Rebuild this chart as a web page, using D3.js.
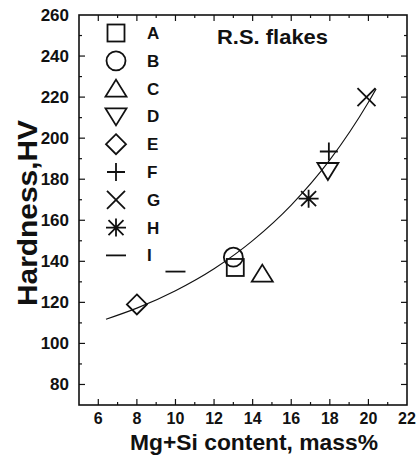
<!DOCTYPE html>
<html>
<head>
<meta charset="utf-8">
<script src="https://cdn.jsdelivr.net/npm/d3@7"></script>
<style>
  body { margin: 0; background: #fff; }
  text { font-family: "Liberation Sans", Arial, sans-serif; font-weight: bold; fill: #111; }
</style>
</head>
<body>
<div id="chart"></div>
<script>
// Measured points (Mg+Si mass%, hardness HV)
const series = ['A', 'B', 'C', 'D', 'E', 'F', 'G', 'H', 'I']
const shapes = ['square', 'circle', 'triangle', 'triangleDown', 'diamond', 'plus', 'cross', 'asterisk', 'dash']
const xValues = [13.1, 13.0, 14.5, 17.9, 8.0, 17.95, 19.9, 16.9, 10.0]
const yValues = [137, 142, 134, 184, 119, 193.5, 220, 170.5, 135]

// Fitted curve
const curveX = [6.4, 8, 10, 12, 14, 16, 18, 20, 20.4]
const curveY = [111.8, 117.2, 125.7, 136.4, 150.1, 167.4, 189.4, 217.5, 224]

const xTicks = [6, 8, 10, 12, 14, 16, 18, 20, 22]
const yTicks = [80, 100, 120, 140, 160, 180, 200, 220, 240, 260]

const width = 418
const height = 457
const margin = { top: 15, right: 11, bottom: 52, left: 79 }

const svg = d3.select('#chart')
  .append('svg')
  .attr('width', width)
  .attr('height', height)

const x = d3.scaleLinear().domain([5, 22]).range([margin.left, width - margin.right])
const y = d3.scaleLinear().domain([70, 260]).range([height - margin.bottom, margin.top])

const x0 = x.range()[0], x1 = x.range()[1]
const y0 = y.range()[0], y1 = y.range()[1]

// Ticks (all pointing inward)
const xMinor = d3.range(6, 22, 1).filter(v => !xTicks.includes(v))
const yMinor = d3.range(80, 260, 10).filter(v => !yTicks.includes(v))

const tickG = svg.append('g').attr('stroke', '#111').attr('stroke-width', 1.2)

const addXTicks = (vals, len) => {
  vals.forEach(v => {
    tickG.append('line').attr('x1', x(v)).attr('x2', x(v)).attr('y1', y0).attr('y2', y0 - len)
    tickG.append('line').attr('x1', x(v)).attr('x2', x(v)).attr('y1', y1).attr('y2', y1 + len)
  })
}
const addYTicks = (vals, len) => {
  vals.forEach(v => {
    tickG.append('line').attr('x1', x0).attr('x2', x0 + len).attr('y1', y(v)).attr('y2', y(v))
    tickG.append('line').attr('x1', x1).attr('x2', x1 - len).attr('y1', y(v)).attr('y2', y(v))
  })
}
addXTicks(xTicks.filter(v => v < 22), 6)
addXTicks(xMinor, 3)
addYTicks(yTicks.filter(v => v < 260), 6)
addYTicks(yMinor, 3)

// Frame
svg.append('rect')
  .attr('x', x0)
  .attr('y', y1)
  .attr('width', x1 - x0)
  .attr('height', y0 - y1)
  .attr('fill', 'none')
  .attr('stroke', '#111')
  .attr('stroke-width', 1.6)

// Tick labels
svg.append('g').selectAll('text')
  .data(xTicks)
  .join('text')
  .attr('x', d => x(d))
  .attr('y', y0 + 19)
  .attr('text-anchor', 'middle')
  .attr('font-size', '16px')
  .text(d => d)

svg.append('g').selectAll('text')
  .data(yTicks)
  .join('text')
  .attr('x', x0 - 10)
  .attr('y', d => y(d) + 6)
  .attr('text-anchor', 'end')
  .attr('font-size', '17px')
  .text(d => d)

// Axis titles
svg.append('text')
  .attr('x', 130)
  .attr('y', 450)
  .attr('font-size', '22px')
  .attr('textLength', 248)
  .attr('lengthAdjust', 'spacingAndGlyphs')
  .text('Mg+Si content, mass%')

svg.append('text')
  .attr('transform', 'translate(37,306) rotate(-90)')
  .attr('font-size', '28px')
  .attr('textLength', 186)
  .attr('lengthAdjust', 'spacingAndGlyphs')
  .text('Hardness,HV')

svg.append('text')
  .attr('x', 217)
  .attr('y', 44)
  .attr('font-size', '21px')
  .attr('textLength', 111)
  .attr('lengthAdjust', 'spacingAndGlyphs')
  .text('R.S. flakes')

// Fit curve
const curvePts = curveX.map((v, i) => [v, curveY[i]])
svg.append('path')
  .attr('d', d3.line().x(d => x(d[0])).y(d => y(d[1])).curve(d3.curveMonotoneX)(curvePts))
  .attr('fill', 'none')
  .attr('stroke', '#111')
  .attr('stroke-width', 1.1)

// Marker drawing
function drawMarker(g, shape) {
  const s = 9
  switch (shape) {
    case 'square':
      g.append('rect').attr('x', -8.5).attr('y', -8.5).attr('width', 17).attr('height', 17)
      break
    case 'circle':
      g.append('circle').attr('r', 9.5)
      break
    case 'triangle':
      g.append('path').attr('d', 'M0,-9 L10.5,8 L-10.5,8 Z')
      break
    case 'triangleDown':
      g.append('path').attr('d', 'M0,9 L10.5,-8 L-10.5,-8 Z')
      break
    case 'diamond':
      g.append('path').attr('d', 'M0,-10 L10,0 L0,10 L-10,0 Z')
      break
    case 'plus':
      g.append('path').attr('d', `M-${s},0 L${s},0 M0,-${s} L0,${s}`)
      break
    case 'cross':
      g.append('path').attr('d', `M-${s},-${s} L${s},${s} M-${s},${s} L${s},-${s}`)
      break
    case 'asterisk': {
      const d = 7.5
      g.append('path').attr('d', `M-${s + 1},0 L${s + 1},0 M0,-${s} L0,${s} M-${d},-${d} L${d},${d} M-${d},${d} L${d},-${d}`)
      break
    }
    case 'dash':
      g.append('path').attr('d', 'M-10,0 L10,0')
      break
  }
  g.attr('fill', 'none').attr('stroke', '#111').attr('stroke-width', 1.8)
}

// Data points
series.forEach((name, i) => {
  const g = svg.append('g')
    .attr('transform', `translate(${x(xValues[i])},${y(yValues[i])})`)
  drawMarker(g, shapes[i])
})

// Legend
const legendTop = 33
const legendStep = 27.8
series.forEach((name, i) => {
  const ly = legendTop + i * legendStep
  const g = svg.append('g').attr('transform', `translate(116,${ly})`)
  drawMarker(g, shapes[i])
  svg.append('text')
    .attr('x', 147)
    .attr('y', ly + 6)
    .attr('font-size', '17px')
    .text(name)
})
</script>
</body>
</html>
